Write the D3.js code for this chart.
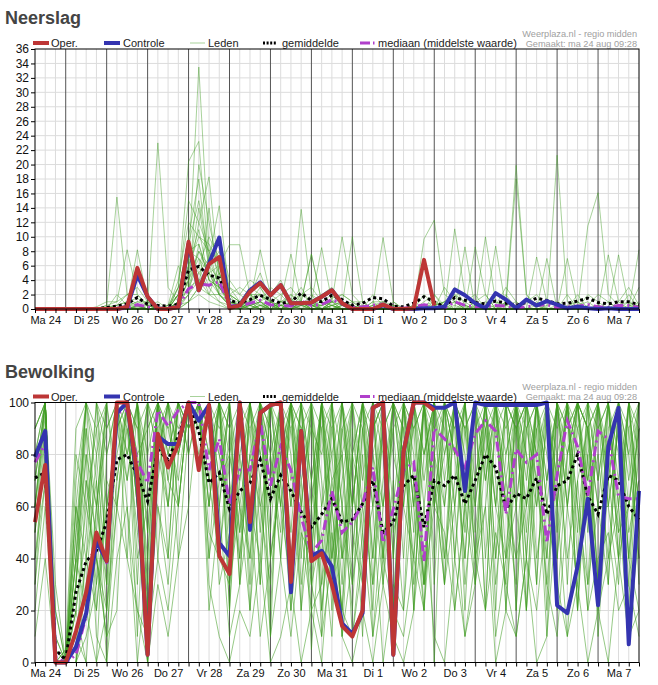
<!DOCTYPE html>
<html>
<head>
<meta charset="utf-8">
<script src="https://cdn.jsdelivr.net/npm/d3@7"></script>
<style>
  body { margin: 0; background: #fff; }
  text { font-family: Arial, "Liberation Sans", sans-serif; }
</style>
</head>
<body>
<div id="chart"></div>
<script>
// dag labels (op 12:00 van elke dag)
const dagLabels = ["Ma 24", "Di 25", "Wo 26", "Do 27", "Vr 28", "Za 29", "Zo 30", "Ma 31",
  "Di 1", "Wo 2", "Do 3", "Vr 4", "Za 5", "Zo 6", "Ma 7"];

const legendaNamen = ["Oper.", "Controle", "Leden", "gemiddelde", "mediaan (middelste waarde)"];
const bronTekst = ["Weerplaza.nl - regio midden", "Gemaakt: ma 24 aug 09:28"];

// ---- Neerslag (mm per 6 uur), elke waarde is een 6-uurs punt vanaf ma 24 06:00
const neerslagOper = [0,0,0,0, 0,0,0,0, 0,0.3,5.7,1.7, 0,0,0.3,9.3, 2.6,6.2,7.2,0.1,
  0.5,2.4,3.6,1.9, 3.3,0.8,0.8,0.9, 1.7,2.6,0.8,0, 0,0,0.6,0, 0,0.1,6.8,0.5];
const neerslagControle = [0,0,0,0, 0,0,0,0, 0,0.3,4.7,1.7, 0,0,0.3,9.0, 2.6,6.3,9.9,0.2,
  0.5,2.6,3.7,1.9, 3.3,0.8,0.8,0.9, 1.7,2.6,0.8,0, 0,0,0.5,0, 0,0,0.1,0.1,
  0.3,2.7,1.9,0.8, 0.1,2.2,1.3,0.1, 1.3,0.5,1.1,0.6, 0.1,0.3,0.1,0, 0.1,0,0,0];
const neerslagGemiddelde = [0,0,0,0, 0,0,0.05,0.2, 0.4,0.7,1.6,0.65, 0.5,0.4,0.65,5.4, 5.9,4.7,4.3,1.2,
  0.8,1.3,1.9,1.3, 0.8,1.0,2.2,1.2, 1.0,1.9,1.3,0.5, 0.8,1.6,1.4,0.4, 0.3,0.8,1.7,1.0,
  0.3,1.6,1.2,0.9, 0.7,1.1,0.8,0.5, 0.9,1.5,1.2,0.7, 0.8,1.1,1.5,0.9, 0.7,1.0,1.0,0.6];
const neerslagMediaan = [0,0,0,0, 0,0,0,0, 0,0.1,0.6,0.3, 0.1,0.1,0.3,2.8, 3.5,3.3,3.8,0.5,
  0.4,0.8,1.2,0.6, 0.5,0.4,1.1,0.5, 0.6,1.3,0.7,0.2, 0.3,0.5,0.7,0.1, 0.1,0.3,0.6,0.4,
  0.1,1.0,0.5,0.3, 0.3,0.5,0.4,0.1, 0.3,0.5,0.6,0.2, 0.3,0.4,0.6,0.3, 0.2,0.5,0.5,0.2];
const neerslagLeden = [
  [0,0,0,0, 0,0,0,0.5, 15.5,2,0.5,0, 0,0,1,6, 33.5,8,3,1, 0.5,1,2,0.5, 0,1,3,0.5, 0.5,1,0,0, 0,0.5,1,0, 0,0,1,2, 0.5,1,0,0, 0,0.5,3,1, 0,0,0.5,1, 0,0,0.5,2, 1,0,0,0.5],
  [0,0,0,0, 0,0,0.3,1, 1,8.2,2,0.5, 23,3,1,4, 8,5,2,0.5, 0,2,1,0, 0.5,0.5,13.8,2, 0,0.5,1,0.5, 0,0,0,0.5, 0,0,0.5,1, 0,0,0.5,0, 0,0,1,19.9, 2,0,0,0, 0,0.5,1,0, 0,0,0.5,0.5],
  [0,0,0,0, 0,0,0,0, 2,0.5,8.2,1, 0,0.5,3,20.4, 23.2,6,2,0.5, 0,0.5,0,0, 1,7.6,1,0, 0,0,0.5,10, 1,0,0,0, 0,0,0,0, 0,0,0,0.5, 1,0,0.5,18, 2,0.5,0,0, 0,0,0,0.5, 0,0.5,0,0],
  [0,0,0,0, 0,0,0,0.2, 0.5,1,1.5,0.5, 0,0,0.5,4, 12,18.3,4,1, 1,0,0.5,1, 0.5,1,1,7.6, 1,0.5,0,0, 0,0.5,9.9,1, 0,0,0,0.5, 1,2,0,0, 0,0,0,0, 0,0.5,0,0.5, 0,0,11.5,16.1, 2,0.5,0,1],
  [0,0,0,0, 0,0,0,0, 0,0.5,1,1, 0.5,0,2,9, 15,7,14.3,2, 0,1,8.2,2, 1,0.5,1,1, 8.5,1,0.5,0, 0,0,0.5,0, 0,0,9.7,12.3, 2,1,0.5,0, 0,0,0.5,1, 0,0,0,21.3, 1,0,0,0, 0,0.5,1,0],
  [0,0,0,0, 0,0,0,0, 0.5,2,3,1, 0,0,4,12, 10,9,6,8.9, 8.9,2,0.5,0, 0.5,0,2,1, 0.5,1.5,2,1, 0,0,0.5,0, 0,0,0.5,0.5, 0,11.1,2,0, 0,0,0,0, 0,7.2,1,0.5, 0,0,0,0, 0,0,0,0.5],
  [0,0,0,0, 0,0,0,0, 0,0,0.5,0.5, 0,0.5,6,3, 20,12,5,2, 1,3,2,1, 2,3,1,0.5, 0,1,10,2, 0.5,0,0,0, 0,0.5,0,0, 0,0,0,8.6, 2,0,0,0.5, 0,0,0,0, 0,0,0,0, 7.5,1,0,0],
  [0,0,0,0, 0,0,0,0, 0,0,0,0.5, 1,0,2,5, 14,6,8,3, 2,4,3,1, 0.5,2,1,0.5, 1,2,0.5,0, 0,0.5,0,0, 0,0,0,1, 0.5,0,0,0, 10,1,0.5,0, 0,0,0,0, 7,0.5,0,0, 0,0,0,0],
  [0,0,0,0, 0,0,0,0.5, 1,2,2,0.5, 0,0,1,8, 9,4,3,1.5, 0.5,2,5,1, 0,1,2,3, 1,0.5,0,0, 0,1,1,0.5, 0,0,0,0, 0,0,8.6,0, 0,0,0,0, 0,0,7,0, 0,0,0,0.5, 0,0,1,0],
  [0,0,0,0, 0,0,0,0, 0,0.5,0.5,0, 0,0,0.5,3, 6,10,7,2, 1,1,2,0.5, 0,0.5,1,7.6, 1,0,0,0, 0.5,0,0,0.5, 0,0,0,2, 0,0,0,0, 0,8.7,0,0, 0,0,0,0, 0,0,0,0, 0,7.5,0.5,0],
  [0,0,0,0, 0,0,0,0, 0,0.3,1,0.5, 0,0.5,2,10, 18,5,3,0.5, 0.5,0.5,1,2, 4,1,1,0.5, 0,0.5,1,0.5, 0,0,0,0, 0,0,0,0, 0,0.5,0,0, 0,0,0,0, 0,0,0,0, 0.5,1,0,0, 0,0,0,8.2],
  [0,0,0,0, 0,0,0,0, 0,0,0.3,0, 0,0,3,15, 12,8,10,4, 2,1,0.5,0.5, 1,2,0.5,0, 0.5,1,2,1, 1,0,0,0, 0,0.5,0,0.5, 1,2,1,0, 0,0,0,0, 0,0,0,0, 0,0,0,0.5, 0,0,0,0.5],
  [0,0,0,0, 0,0,0,0, 0,0,0,0, 0,0,1,4, 7,3,5,1, 0,0.5,1,3, 2,0.5,1,1, 0,0,0,0.5, 0,0,1,0, 0,0,0,0, 0,1,0,1, 0,0,0,0, 0,0,0,0, 0,0,0,0, 0,0,0,0],
  [0,0,0,0, 0,0,0,0.3, 0.5,1,0.5,0, 0,0,2,7, 5,7,3,1, 0.5,2,2,1, 0,1,0.5,0, 2,3,1,0.5, 0,0,0,0, 0,0,0,0, 0,0,0,0, 0,0,0,0, 0,0,0,0, 0,0,0,0, 0,0,0,0],
  [0,0,0,0, 0,0,0,0, 0,0,0,0, 0,0,0.5,2, 4,2,6,0.5, 0,1,3,0.5, 1,1.5,0,0, 0,1,1,0, 0,0,0,0, 0,0,0.5,0, 0,0,0,0, 0.5,1,0,0, 0,0,0,0, 0,0,0,0, 0,0,0,0],
  [0,0,0,0, 0,0,0,0, 0,0,0.5,0, 0,0,0.5,1, 3,14,2,0.5, 0.5,0,1,0.5, 0.5,0,0.5,2, 1,0,0,0, 0,0,0,0, 0,0,0,0, 0,0,0,0, 0,0,0,0, 0,0,0,0, 0,0,0,0, 0,0,0,0],
  [0,0,0,0, 0,0,0,0, 0,0.5,0,0, 0,0,3,6, 11,4,2,3, 1,0.5,0,1, 0,0,1,0.5, 0.5,0,0.5,1, 0,0,0,0, 0,0,0,0, 0,0,0,0, 0,0,0,0, 0,0,0,0, 0,0,0,0, 0,0,0,0],
  [0,0,0,0, 0,0,0,0, 0,0,0,0, 0,0,1,3, 8,6,4,2, 3,2,1,0, 0,0.5,0,0, 0,0,0,0, 0,0,0,0, 0,0,0,0, 0,0,0,0, 0,0,0,0, 0,0,0,0, 0,0,0,0, 0,0,0,0],
  [0,0,0,0, 0,0,0,0, 0,0,0,0, 0,0,0,1, 2,1,0.5,0, 0,0,0.5,0, 1,0.5,0,0, 0,0,0.5,0, 0,1,0,0, 0,0,0,0, 3,1,0,0, 0,0,2,0, 0,1,0,0, 0,1,0,0, 0,0,2,0],
  [0,0,0,0, 0,0,0,0, 0,0,0,0, 0,0,0,2, 5,3,1,0.5, 0.5,0,0,0.5, 0,0,1,0, 0,0.5,0,0, 0,2,0.5,0, 0,0,2,0.5, 0,0,1,2, 0,0,0,0, 1,2,0,0, 0,2,0,0, 1,0,0,0],
  [0,0,0,0, 0,0,0,0, 0,0,0,0, 0,0,0.5,3, 4,5,2,0.5, 0,0.5,1,0, 0,0,0.5,0.5, 0,1,0,0, 0.5,0,0,0, 0,0,0,0, 0,3,0.5,0, 0,0,1,0, 0,0,0,0, 0,0,0,0, 0,1,3,0.5],
  [0,0,0,0, 0,0,0,0, 0,0,0.3,0, 0,0,1,5, 6,2,2,1, 0,0,0,0.5, 0.5,0,0,1, 0,0,0,0, 0,0,0,1, 0,0,0,0, 0,0,0,1, 2,0,0,0, 0,0,0,0, 0,0,2,1, 0,0,0,3],
  [0,0,0,0, 0,0,0,0, 0,0,0,0, 0,0,0,1, 3,2,1,0, 0,1,0,0, 0,0,0.5,0, 0,0,0,0, 0,0,0,0, 0,0,0,0, 1,0,0,0, 0,0,0,0, 0,0,0,0, 0,0,0,0, 0,0,0,0],
  [0,0,0,0, 0,0,0,0, 0,0,0,0, 0,0,0.5,2, 9,4,3,1, 0.5,0,0.5,0, 0,0.5,0,0, 0,0,0,0, 0,0,0,0, 0,0.5,0,0, 0,0,0,0, 0,0,0,0, 0,0,0,0, 2,0,0,0, 0,0,0,0],
  [0,0,0,0, 0,0,0,0, 0,0,0,0, 0,0,2,8, 7,5,6,2, 1,0.5,0,0, 0,0,1,0, 0,0.5,0,0, 0,0,0,0, 0,0,0,0, 0,0,0,0, 0,0,0,0, 0,0,0,0, 0,0,0,0, 0,0,0,0],
  [0,0,0,0, 0,0,0,0, 0,0,0.5,0, 0,0,1,6, 10,8,5,1, 0.5,1,0,0, 0,0,0,0.5, 0,0,1,0, 0,0,0,0, 0,0,0,0, 0,0,0,0, 0,0,0,0, 0,0,0,0, 0,0,0,0, 0,0,0,0]
];

// ---- Bewolking (%)
const bewolkingOper = [54,76,0,0, 12,27,50,39, 100,100,72,3, 88,75,84,100, 74,99,41,34,
  100,54,96,99, 100,31,89,39, 42,30,14,10, 20,98,100,3, 81,100,100,97];
const bewolkingControle = [79,89,0,0, 6,19,47,39, 96,100,70,3, 87,84,84,100, 93,99,46,41,
  100,51,96,99, 100,27,89,41, 43,37,15,11, 19,98,100,3, 81,100,100,98,
  98,100,66,100, 99,99,99,99, 99,99,100,22, 19,37,63,22, 83,98,7,66];
const bewolkingGemiddelde = [71,73,5,1, 27,39,43,54, 78,80,72,62, 82,78,87,99, 89,69,73,59,
  66,69,78,63, 72,66,58,52, 57,63,54,55, 61,70,50,54, 68,72,52,70,
  68,72,61,70, 80,75,59,65, 63,71,57,68, 70,80,64,57, 72,70,60,55];
const bewolkingMediaan = [77,84,2,0, 3,18,47,38, 96,97,77,69, 97,91,97,100, 100,74,86,61,
  74,74,93,68, 83,74,56,42, 47,66,50,54, 61,75,46,59, 74,77,39,90,
  86,82,75,88, 93,89,57,82, 77,80,46,72, 93,83,64,89, 86,64,63,63];
const bewolkingLeden = [
  [60,95,5,0, 40,100,70,20, 100,100,60,10, 90,100,60,100, 100,40,100,20, 80,100,30,100, 100,20,90,5, 60,100,10,80, 100,40,90,100, 100,20,100,30, 100,60,100,100, 70,100,20,90, 100,80,10,100, 60,100,90,30, 100,100,40,80],
  [80,100,0,0, 10,40,100,60, 90,70,100,30, 100,60,100,100, 100,90,30,50, 100,60,100,40, 70,100,40,100, 20,60,100,40, 90,100,30,70, 20,100,100,60, 80,100,30,70, 100,40,100,20, 90,100,60,40, 100,80,100,10, 70,40,100,100],
  [90,100,10,0, 60,20,0,80, 100,90,70,100, 40,100,80,100, 100,60,100,90, 30,100,100,10, 100,80,20,60, 100,30,60,100, 40,100,80,20, 100,60,100,90, 100,20,60,100, 100,100,40,100, 20,90,100,70, 100,20,80,100, 30,100,60,90],
  [50,90,0,5, 30,100,40,10, 60,100,90,50, 100,80,100,100, 100,100,60,100, 60,40,90,70, 100,60,100,30, 50,10,100,60, 100,80,40,100, 70,100,60,100, 30,100,90,40, 60,100,20,80, 100,30,100,60, 100,60,20,100, 80,100,40,20],
  [70,100,0,0, 0,70,30,100, 100,40,100,0, 80,100,100,90, 100,80,100,40, 90,100,50,100, 60,90,100,40, 100,60,20,90, 50,100,100,10, 100,80,20,100, 90,60,100,70, 100,20,100,90, 40,100,70,100, 60,90,100,30, 100,40,100,50],
  [40,80,20,0, 60,100,100,40, 100,100,10,90, 100,70,60,100, 90,100,80,60, 100,20,100,90, 40,100,70,20, 100,90,60,30, 80,20,100,100, 60,40,100,100, 100,80,40,100, 20,100,100,60, 100,70,40,100, 90,100,60,80, 40,100,100,60],
  [100,100,5,0, 20,0,60,90, 100,80,100,60, 100,90,100,80, 100,100,100,70, 40,80,100,60, 100,40,80,100, 10,100,40,60, 100,60,90,20, 100,100,40,80, 60,100,100,40, 90,60,100,100, 20,100,80,60, 100,50,100,70, 100,80,20,90],
  [30,70,0,0, 50,90,20,60, 80,100,100,70, 60,40,100,100, 100,70,100,30, 70,100,60,80, 100,100,20,100, 60,80,30,100, 100,10,60,90, 40,100,80,100, 70,100,20,90, 100,40,80,100, 60,100,100,20, 80,100,50,100, 60,30,90,40],
  [90,100,0,0, 0,30,80,100, 100,100,80,90, 100,100,90,100, 100,100,90,100, 100,70,100,40, 80,100,100,60, 100,70,80,30, 60,90,100,60, 100,100,70,100, 100,80,100,60, 100,100,90,100, 80,60,100,100, 100,90,70,100, 100,60,100,80],
  [60,100,0,0, 80,60,40,20, 70,100,40,60, 100,80,100,90, 100,100,70,80, 60,90,30,100, 90,50,100,70, 40,100,60,20, 90,40,100,80, 60,100,30,100, 100,40,90,100, 80,100,60,40, 100,100,20,100, 70,100,90,60, 30,100,70,100],
  [20,60,0,0, 40,80,10,0, 40,60,20,10, 60,30,80,100, 100,20,60,10, 30,60,10,40, 70,20,60,30, 10,40,80,10, 40,60,0,30, 20,70,30,60, 50,20,60,30, 80,10,40,60, 20,70,30,10, 60,30,80,20, 40,60,10,50],
  [100,100,20,0, 70,100,90,100, 100,100,100,80, 100,100,100,100, 100,90,100,100, 100,100,80,100, 100,100,90,100, 100,80,100,100, 100,100,90,100, 100,100,80,100, 100,90,100,100, 100,100,100,90, 100,100,100,80, 100,100,90,100, 100,100,100,90],
  [80,90,10,0, 20,50,100,100, 100,60,0,40, 100,100,40,60, 100,60,100,50, 100,30,100,80, 40,100,60,100, 100,50,20,80, 10,100,60,100, 80,40,100,0, 100,80,100,40, 100,70,30,100, 40,100,100,60, 100,20,100,90, 100,40,60,100],
  [60,100,0,0, 0,10,30,60, 90,100,100,20, 100,40,100,100, 100,100,40,90, 50,100,70,100, 60,30,100,90, 80,100,10,40, 100,70,30,100, 90,20,100,60, 100,100,60,100, 40,90,100,20, 100,40,70,100, 80,100,30,60, 100,70,100,30],
  [70,100,0,0, 50,100,80,30, 100,100,60,0, 70,100,100,100, 100,80,100,60, 80,40,100,100, 100,90,50,40, 100,20,90,100, 70,100,40,100, 100,60,100,70, 30,100,70,100, 100,60,100,90, 60,100,40,100, 100,100,60,20, 90,100,50,70],
  [100,100,0,5, 90,100,100,80, 100,100,100,100, 100,100,100,100, 100,100,100,90, 100,100,100,70, 100,100,100,100, 90,100,100,80, 100,100,100,100, 100,90,100,100, 100,100,100,100, 100,100,80,100, 100,100,100,100, 90,100,100,100, 100,100,80,100],
  [40,70,0,0, 10,0,0,20, 60,40,20,0, 30,10,40,90, 100,30,10,0, 20,10,40,0, 10,30,0,20, 0,50,10,0, 20,0,30,10, 0,20,60,10, 0,40,10,30, 60,0,20,10, 40,0,10,60, 10,30,0,20, 0,40,10,20],
  [50,100,30,0, 30,90,60,100, 100,70,100,50, 100,100,80,100, 100,100,100,100, 70,100,100,50, 100,60,100,100, 30,90,100,60, 100,30,70,100, 100,90,100,40, 100,100,60,100, 90,100,100,60, 100,80,100,100, 60,100,90,100, 100,60,100,100],
  [90,100,0,0, 30,70,50,100, 60,100,70,100, 80,100,100,100, 100,100,100,20, 100,70,100,90, 60,100,90,40, 100,100,40,100, 90,60,100,100, 60,100,100,80, 100,40,100,100, 100,100,70,100, 90,100,60,100, 100,40,100,100, 70,100,100,60],
  [30,90,0,0, 60,40,70,0, 100,100,30,100, 90,60,100,80, 100,40,70,100, 30,100,100,20, 90,100,30,70, 100,40,100,50, 30,80,100,40, 100,60,20,100, 80,100,50,100, 20,100,60,30, 90,70,100,50, 100,20,90,60, 60,90,30,100],
  [100,100,0,0, 40,100,100,90, 100,100,90,100, 100,100,100,100, 100,100,70,100, 100,90,100,100, 80,100,100,70, 100,100,80,100, 100,90,100,100, 80,100,100,100, 100,100,90,100, 100,100,100,100, 70,100,100,90, 100,100,100,70, 100,100,90,100],
  [10,40,0,0, 0,20,40,10, 20,100,60,10, 40,20,60,100, 100,50,40,30, 60,20,70,10, 40,10,50,20, 30,60,20,10, 50,10,40,20, 10,40,20,70, 30,60,10,40, 20,50,30,10, 40,20,60,30, 10,70,20,40, 50,20,30,10],
  [70,100,0,0, 20,60,90,40, 100,80,100,20, 100,90,70,100, 80,100,60,100, 40,100,80,60, 100,70,100,30, 90,40,70,100, 60,100,40,90, 100,30,80,100, 40,100,90,60, 100,60,40,100, 80,30,100,70, 100,60,30,100, 70,100,80,40],
  [60,90,0,0, 40,20,60,100, 70,100,60,100, 80,100,60,100, 100,60,100,80, 100,60,40,100, 70,100,80,50, 100,60,100,70, 30,90,100,40, 100,70,30,100, 60,100,80,30, 100,90,60,100, 50,100,70,100, 30,100,60,90, 100,50,100,60],
  [80,100,0,0, 30,80,60,30, 90,100,80,40, 100,70,100,100, 100,90,80,60, 90,60,100,80, 50,100,60,100, 70,30,90,60, 100,80,60,100, 90,50,100,60, 100,90,40,100, 70,100,60,90, 100,60,90,40, 80,100,70,100, 60,90,40,100],
  [50,80,0,0, 0,40,20,70, 60,90,50,20, 80,60,100,90, 100,70,40,80, 50,80,60,30, 80,40,70,90, 20,70,40,80, 60,30,90,50, 70,90,30,80, 40,70,100,50, 90,30,70,40, 60,90,30,80, 40,70,90,30, 80,50,60,90]
];

// ---- tekenen
const width = 658, height = 685;
const kleurOper = "#bd3636", kleurControle = "#3434b0", kleurLeden = "#3f9c22",
  kleurMediaan = "#b03fcb";

const svg = d3.select("#chart").append("svg")
  .attr("width", width)
  .attr("height", height);

// uren vanaf ma 24 00:00; punt i ligt op 6 + 6*i
const xScale = d3.scaleLinear().domain([6, 360]).range([35, 639]);
const uurVan = i => 6 + 6 * i;
const tijdTicks = d3.range(6, 361, 6);

function drawPanel(cfg) {
  const g = svg.append("g").attr("transform", `translate(0,${cfg.top})`);
  const plotTop = 49, plotBottom = 309;
  const yScale = d3.scaleLinear().domain([0, cfg.yMax]).range([plotBottom, plotTop]);

  // titel
  g.append("text")
    .attr("x", 5).attr("y", 24)
    .attr("font-size", 18).attr("font-weight", "bold")
    .attr("fill", "#444")
    .text(cfg.titel);

  // bron rechtsboven
  bronTekst.forEach((t, k) => {
    g.append("text")
      .attr("x", 637).attr("y", 36.5 + k * 10)
      .attr("text-anchor", "end")
      .attr("font-size", 9.2).attr("fill", "#a0a0a0")
      .text(t);
  });

  // legenda
  const leg = g.append("g").attr("font-size", 11).attr("fill", "#222");
  const legY = 43;
  leg.append("line").attr("x1", 33).attr("x2", 49).attr("y1", legY).attr("y2", legY)
    .attr("stroke", kleurOper).attr("stroke-width", 4);
  leg.append("text").attr("x", 51).attr("y", legY + 4).text(legendaNamen[0]);
  leg.append("line").attr("x1", 104).attr("x2", 120).attr("y1", legY).attr("y2", legY)
    .attr("stroke", kleurControle).attr("stroke-width", 4);
  leg.append("text").attr("x", 123).attr("y", legY + 4).text(legendaNamen[1]);
  leg.append("line").attr("x1", 190).attr("x2", 205).attr("y1", legY).attr("y2", legY)
    .attr("stroke", kleurLeden).attr("stroke-opacity", 0.45).attr("stroke-width", 1);
  leg.append("text").attr("x", 208).attr("y", legY + 4).text(legendaNamen[2]);
  leg.append("line").attr("x1", 263).attr("x2", 276).attr("y1", legY).attr("y2", legY)
    .attr("stroke", "#000").attr("stroke-width", 3).attr("stroke-dasharray", "2,1.6");
  leg.append("text").attr("x", 282).attr("y", legY + 4).text(legendaNamen[3]);
  leg.append("line").attr("x1", 360).attr("x2", 375).attr("y1", legY).attr("y2", legY)
    .attr("stroke", kleurMediaan).attr("stroke-width", 3).attr("stroke-dasharray", "10,3,1.5,5");
  leg.append("text").attr("x", 378).attr("y", legY + 4).text(legendaNamen[4]);

  // grid: horizontaal
  g.append("g").selectAll("line")
    .data(d3.range(cfg.yStep, cfg.yMax, cfg.yStep))
    .join("line")
    .attr("x1", 35).attr("x2", 639)
    .attr("y1", d => yScale(d)).attr("y2", d => yScale(d))
    .attr("stroke", "#dcdcdc");

  // grid: verticaal (licht elke 6 uur, donker om middernacht)
  const binnen = tijdTicks.filter(h => h > 6 && h < 360);
  g.append("g").selectAll("line")
    .data(binnen.filter(h => h % 24 !== 0))
    .join("line")
    .attr("x1", d => xScale(d)).attr("x2", d => xScale(d))
    .attr("y1", plotTop).attr("y2", plotBottom)
    .attr("stroke", "#dcdcdc");
  g.append("g").selectAll("line")
    .data(binnen.filter(h => h % 24 === 0))
    .join("line")
    .attr("x1", d => xScale(d)).attr("x2", d => xScale(d))
    .attr("y1", plotTop).attr("y2", plotBottom)
    .attr("stroke", "#555");

  const line = d3.line()
    .x((d, i) => xScale(uurVan(i)))
    .y(d => yScale(d));

  // leden
  g.append("g").selectAll("path")
    .data(cfg.leden)
    .join("path")
    .attr("d", line)
    .attr("fill", "none")
    .attr("stroke", kleurLeden)
    .attr("stroke-opacity", cfg.ledenOpacity)
    .attr("stroke-width", 1);

  g.append("path").datum(cfg.gemiddelde)
    .attr("d", line).attr("fill", "none")
    .attr("stroke", "#000").attr("stroke-width", 3)
    .attr("stroke-dasharray", "3,3");

  g.append("path").datum(cfg.mediaan)
    .attr("d", line).attr("fill", "none")
    .attr("stroke", kleurMediaan).attr("stroke-width", 3)
    .attr("stroke-dasharray", "10,4,2,4");

  g.append("path").datum(cfg.controle)
    .attr("d", line).attr("fill", "none")
    .attr("stroke", kleurControle).attr("stroke-width", 4)
    .attr("stroke-linejoin", "round");

  g.append("path").datum(cfg.oper)
    .attr("d", line).attr("fill", "none")
    .attr("stroke", kleurOper).attr("stroke-width", 4)
    .attr("stroke-linejoin", "round");

  // kader
  g.append("rect")
    .attr("x", 35).attr("y", plotTop)
    .attr("width", 639 - 35).attr("height", plotBottom - plotTop)
    .attr("fill", "none").attr("stroke", "#000");

  // assen
  const xAxis = g.append("g")
    .attr("transform", `translate(0,${plotBottom})`)
    .call(d3.axisBottom(xScale)
      .tickValues(tijdTicks)
      .tickSize(4)
      .tickFormat(h => h % 24 === 12 ? dagLabels[(h - 12) / 24] : ""));
  xAxis.select(".domain").remove();
  xAxis.selectAll("text").attr("font-size", 11).attr("fill", "#111")
    .attr("font-family", "Arial, 'Liberation Sans', sans-serif");

  const yAxis = g.append("g")
    .attr("transform", "translate(35,0)")
    .call(d3.axisLeft(yScale)
      .tickValues(d3.range(0, cfg.yMax + 1, cfg.yStep))
      .tickSize(4)
      .tickPadding(2));
  yAxis.select(".domain").remove();
  yAxis.selectAll("text").attr("font-size", 12).attr("fill", "#111")
    .attr("font-family", "Arial, 'Liberation Sans', sans-serif");
}

drawPanel({
  titel: "Neerslag", top: 0, yMax: 36, yStep: 2,
  oper: neerslagOper, controle: neerslagControle,
  gemiddelde: neerslagGemiddelde, mediaan: neerslagMediaan,
  leden: neerslagLeden, ledenOpacity: 0.45
});

drawPanel({
  titel: "Bewolking", top: 353.5, yMax: 100, yStep: 20,
  oper: bewolkingOper, controle: bewolkingControle,
  gemiddelde: bewolkingGemiddelde, mediaan: bewolkingMediaan,
  leden: bewolkingLeden, ledenOpacity: 0.55
});
</script>
</body>
</html>
